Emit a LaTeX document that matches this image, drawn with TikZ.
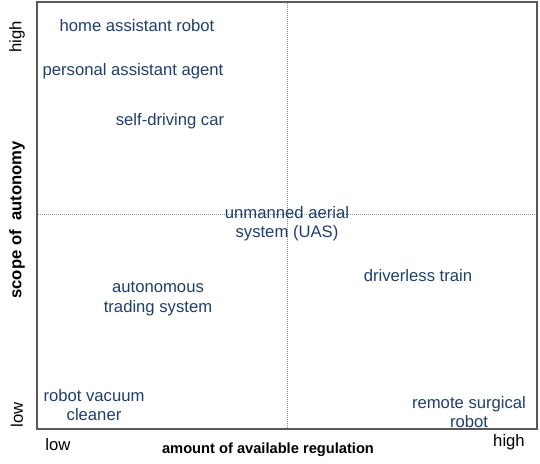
\documentclass[tikz,border=0pt]{standalone}
\usepackage{fontspec}
\setmainfont{Liberation Sans}
\definecolor{itemblue}{HTML}{1F3F6B}
\tikzset{
  item/.style={font=\fontsize{12.5}{14.5}\selectfont, text=itemblue, align=center, inner sep=0pt},
  tick/.style={font=\fontsize{12.5}{14.5}\selectfont, inner sep=0pt},
  axislabel/.style={font=\fontsize{11}{13}\selectfont\bfseries, inner sep=0pt}
}
\begin{document}
\begin{tikzpicture}[x=0.75pt, y=-0.75pt]
            \useasboundingbox (0,0) rectangle (540,464);
            \draw[black!45, densely dotted, line width=0.5pt] (287, 3) -- (287, 429);
            \draw[black!45, densely dotted, line width=0.5pt] (38, 214) -- (536, 214);
            \draw[black!65, line width=1.5pt] (37, 2) rectangle (537, 429);
            \node[item] (home) at (137, 26) {home assistant robot};
            \node[item] (agent) at (133, 71) {personal assistant agent};
            \node[item] (car) at (170, 121) {self-driving car};
            \node[item] (uas) at (287, 224) {unmanned aerial\\system (UAS)};
            \node[item] (train) at (418, 276) {driverless train};
            \node[item] (trading) at (158, 299) {autonomous\\trading system};
            \node[item] (vacuum) at (94, 405) {robot vacuum\\cleaner};
            \node[item] (surgical) at (469, 412) {remote surgical\\robot};
            \node[tick] (xlow) at (58, 445) {low};
            \node[tick] (xhigh) at (509, 442) {high};
            \node[axislabel] (xlabel) at (268, 450) {amount of available regulation};
            \node[tick, rotate=90] (yhigh) at (17, 37) {high};
            \node[tick, rotate=90] (ylow) at (17, 415) {low};
            \node[axislabel, font=\fontsize{12.5}{14.5}\selectfont\bfseries, rotate=90] (ylabel) at (17, 220) {scope of\ \ autonomy};
        \end{tikzpicture}
\end{document}
